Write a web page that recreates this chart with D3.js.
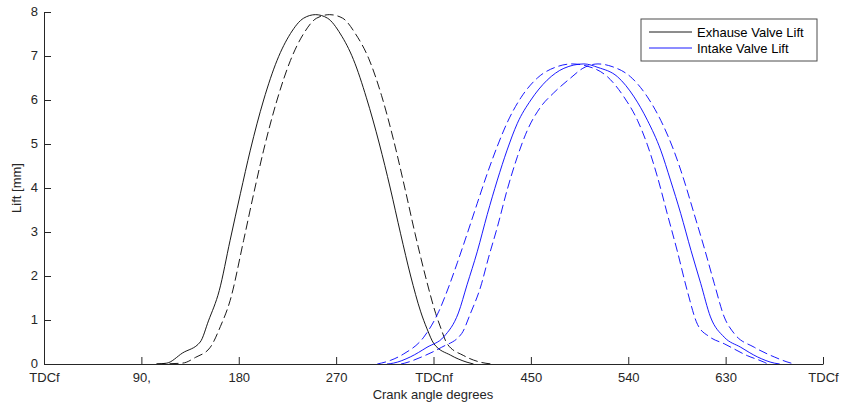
<!DOCTYPE html>
<html>
<head>
<meta charset="utf-8">
<script src="https://cdn.jsdelivr.net/npm/d3@7"></script>
<style>
  html, body { margin: 0; padding: 0; background: #fff; }
  svg { display: block; font-family: "Liberation Sans", Arial, sans-serif; }
</style>
</head>
<body>
<svg id="chart" width="841" height="405"></svg>
<script>
// Crank angle ticks (degrees) and their labels
const tickAngles = [0, 90, 180, 270, 360, 450, 540, 630, 720];
const tickLabels = ["TDCf", "90,", "180", "270", "TDCnf", "450", "540", "630", "TDCf"];
const liftTicks = [0, 1, 2, 3, 4, 5, 6, 7, 8];

// Exhaust valve lift, nominal timing (solid)
const exhaustAngle = [104, 113.6, 128, 144.4, 152, 162, 172, 181.5, 190.7, 203, 215.4, 227.8, 240, 251, 262, 274, 286, 298, 310, 320, 329.6, 338.9, 348, 354, 360.4, 375.8, 391, 397];
const exhaustLift  = [0, 0.02, 0.25, 0.50, 0.98, 1.67, 2.81, 3.87, 4.86, 6.0, 6.9, 7.51, 7.86, 7.94, 7.86, 7.50, 6.92, 6.05, 5.0, 4.0, 2.96, 2.0, 1.2, 0.8, 0.46, 0.2, 0.04, 0];

// Exhaust valve lift, retarded timing (dashed)
const exhaustLateAngle = [104, 128, 140, 153.7, 163, 172, 184.5, 193.8, 203, 215.4, 227.8, 240, 252, 264, 276, 288, 300, 312, 323, 333.5, 343, 352.5, 362, 367, 372.6, 388, 403.5, 414];
const exhaustLateLift  = [0, 0.02, 0.15, 0.38, 0.85, 1.44, 2.81, 3.87, 4.86, 6.0, 6.9, 7.51, 7.86, 7.94, 7.86, 7.50, 6.95, 6.1, 5.1, 4.0, 2.96, 2.0, 1.15, 0.8, 0.46, 0.19, 0.04, 0];

// Intake valve lift, advanced timing (dashed)
const intakeEarlyAngle = [308, 320, 332.5, 351, 365, 374, 382, 391, 400.4, 409.7, 419, 428, 440.7, 456, 474.5, 488, 502, 520.7, 536, 548.5, 557.7, 567, 576, 585.5, 594.7, 604, 615, 628.7, 650, 665.7, 669];
const intakeEarlyLift  = [0, 0.08, 0.23, 0.61, 1.2, 1.75, 2.3, 2.95, 3.65, 4.33, 4.95, 5.48, 6.05, 6.5, 6.76, 6.82, 6.77, 6.53, 6.07, 5.54, 4.98, 4.25, 3.42, 2.55, 1.65, 0.9, 0.62, 0.46, 0.19, 0.04, 0];

// Intake valve lift, nominal timing (solid)
const intakeAngle = [317, 323, 338.5, 354, 369.6, 383, 391, 400.4, 409.7, 419, 428, 437.5, 450, 465, 480.5, 499, 512, 530, 545.4, 557.7, 570, 579, 588.5, 598, 607, 616, 628.7, 644, 659.5, 675, 680];
const intakeLift  = [0, 0.02, 0.16, 0.38, 0.62, 1.16, 1.8, 2.55, 3.4, 4.18, 4.86, 5.47, 6.0, 6.45, 6.72, 6.82, 6.74, 6.53, 6.07, 5.54, 4.86, 4.18, 3.42, 2.58, 1.83, 1.07, 0.61, 0.38, 0.16, 0.02, 0];

// Intake valve lift, retarded timing (dashed)
const intakeLateAngle = [330, 333.5, 349, 367.5, 386, 394, 403.5, 411, 419, 428, 437.5, 446.7, 459, 471, 486.7, 498, 512, 525, 542, 557.7, 570, 582, 591.5, 600.8, 610, 619.5, 628.7, 638, 656.5, 675, 690.5, 694];
const intakeLateLift  = [0, 0.02, 0.16, 0.38, 0.69, 1.14, 1.75, 2.43, 3.11, 3.95, 4.71, 5.31, 5.84, 6.16, 6.5, 6.72, 6.82, 6.76, 6.53, 6.07, 5.54, 4.86, 4.18, 3.42, 2.66, 1.83, 1.07, 0.69, 0.38, 0.16, 0.02, 0];

const series = [
  { angle: exhaustAngle,     lift: exhaustLift,     color: "#000000", dash: null },
  { angle: exhaustLateAngle, lift: exhaustLateLift, color: "#000000", dash: "9,4" },
  { angle: intakeEarlyAngle, lift: intakeEarlyLift, color: "#0000ff", dash: "9,4" },
  { angle: intakeAngle,      lift: intakeLift,      color: "#0000ff", dash: null },
  { angle: intakeLateAngle,  lift: intakeLateLift,  color: "#0000ff", dash: "9,4" }
];

const legendItems = [
  { label: "Exhause Valve Lift", color: "#000000" },
  { label: "Intake Valve Lift",  color: "#0000ff" }
];

const svg = d3.select("#chart");
const axisColor = "#262626";

const x = d3.scaleLinear().domain([0, 720]).range([44, 823]);
const y = d3.scaleLinear().domain([0, 8]).range([364, 12]);

// Valve lift curves
const line = d3.line()
  .x(d => x(d[0]))
  .y(d => y(d[1]))
  .curve(d3.curveMonotoneX);

svg.append("g")
  .selectAll("path")
  .data(series)
  .join("path")
  .attr("d", s => line(s.angle.map((a, i) => [a, s.lift[i]])))
  .attr("fill", "none")
  .attr("stroke", s => s.color)
  .attr("stroke-width", 0.9)
  .attr("stroke-dasharray", s => s.dash);

// Axes with inward ticks
const xAxis = d3.axisBottom(x)
  .tickValues(tickAngles)
  .tickFormat((d, i) => tickLabels[i])
  .tickSizeInner(-7)
  .tickSizeOuter(0)
  .tickPadding(9);

const yAxis = d3.axisLeft(y)
  .tickValues(liftTicks)
  .tickFormat(d3.format("d"))
  .tickSizeInner(-7)
  .tickSizeOuter(0)
  .tickPadding(6);

const gx = svg.append("g")
  .attr("transform", `translate(0,${y(0)})`)
  .call(xAxis);

const gy = svg.append("g")
  .attr("transform", `translate(${x(0)},0)`)
  .call(yAxis);

gy.selectAll("text").attr("dy", "0.25em");

[gx, gy].forEach(g => {
  g.selectAll("path, line").attr("stroke", axisColor);
  g.selectAll("text")
    .attr("fill", axisColor)
    .style("font-size", "13px")
    .style("font-family", "'Liberation Sans', Arial, sans-serif");
});

// Axis titles
svg.append("text")
  .attr("x", 433)
  .attr("y", 399)
  .attr("text-anchor", "middle")
  .attr("fill", axisColor)
  .style("font-size", "13px")
  .text("Crank angle degrees");

svg.append("text")
  .attr("transform", "translate(21,188) rotate(-90)")
  .attr("text-anchor", "middle")
  .attr("fill", axisColor)
  .style("font-size", "13px")
  .text("Lift [mm]");

// Legend
const legend = svg.append("g");
legend.append("rect")
  .attr("x", 641)
  .attr("y", 19)
  .attr("width", 176)
  .attr("height", 42)
  .attr("fill", "#fff")
  .attr("stroke", "#4d4d4d")
  .attr("stroke-width", 1);

const rows = legend.selectAll("g.item")
  .data(legendItems)
  .join("g")
  .attr("class", "item")
  .attr("transform", (d, i) => `translate(0,${32 + i * 16})`);

rows.append("line")
  .attr("x1", 649)
  .attr("x2", 692)
  .attr("y1", 0)
  .attr("y2", 0)
  .attr("stroke", d => d.color)
  .attr("stroke-width", 0.9);

rows.append("text")
  .attr("x", 697)
  .attr("y", 4.5)
  .attr("fill", "#000")
  .style("font-size", "13px")
  .text(d => d.label);
</script>
</body>
</html>
